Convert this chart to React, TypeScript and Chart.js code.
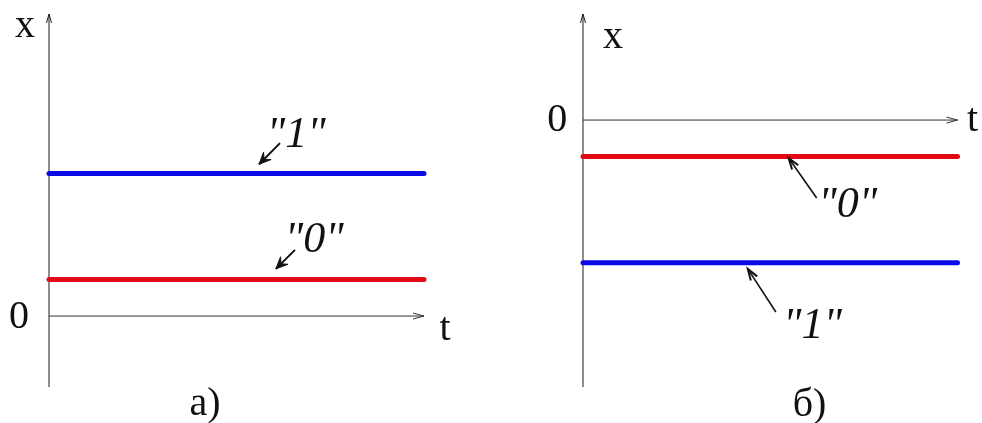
import React, { useEffect, useRef } from "react";
import { Chart, registerables } from "chart.js";

Chart.register(...registerables);

// ---- data ----
const times = [0, 10];
const panelA_level1 = [3.9, 3.9]; // "1" state, panel a)
const panelA_level0 = [1, 1]; // "0" state, panel a)
const panelB_level0 = [-1, -1]; // "0" state, panel б)
const panelB_level1 = [-3.9, -3.9]; // "1" state, panel б)

const axisLabels = ["x", "0", "t"];
const stateLabels = ['"1"', '"0"'];
const panelTitles = ["a)", "б)"];

const BLUE = "#0a0ae6";
const RED = "#e20a14";
const SERIF = '"Liberation Serif", "DejaVu Serif", serif';

type Label = { text: string; t: number; v: number; italic?: boolean };
type Arrow = { from: [number, number]; to: [number, number] };
type Annot = { labels: Label[]; arrows: Arrow[]; filledHeads: boolean };

const annotA: Annot = {
  labels: [
    { text: axisLabels[0], t: -0.64, v: 7.63 },
    { text: axisLabels[1], t: -0.8, v: -0.33 },
    { text: axisLabels[2], t: 10.56, v: -0.66 },
    { text: stateLabels[0], t: 6.59, v: 4.62, italic: true },
    { text: stateLabels[1], t: 7.07, v: 1.75, italic: true },
    { text: panelTitles[0], t: 4.16, v: -2.71 },
  ],
  arrows: [
    { from: [6.16, 4.73], to: [5.6, 4.15] },
    { from: [6.56, 1.81], to: [6.05, 1.29] },
  ],
  filledHeads: true,
};

const annotB: Annot = {
  labels: [
    { text: axisLabels[0], t: 0.8, v: 1.97 },
    { text: axisLabels[1], t: -0.69, v: -0.3 },
    { text: axisLabels[2], t: 10.4, v: -0.3 },
    { text: stateLabels[1], t: 7.07, v: -2.65, italic: true },
    { text: stateLabels[0], t: 6.13, v: -5.96, italic: true },
    { text: panelTitles[1], t: 6.05, v: -8.1 },
  ],
  arrows: [
    { from: [6.24, -2.13], to: [5.49, -1.04] },
    { from: [5.15, -5.25], to: [4.4, -4.07] },
  ],
  filledHeads: false,
};

function makeOverlay(annot: Annot) {
  return {
    id: "overlay",
    beforeDatasetsDraw(chart: any) {
      const { ctx, chartArea, scales } = chart;
      const xs = scales.x;
      const ys = scales.y;
      const x0 = xs.getPixelForValue(0);
      const y0 = ys.getPixelForValue(0);
      const xEnd = xs.getPixelForValue(times[times.length - 1]);
      ctx.save();
      ctx.strokeStyle = "#1a1a1a";
      ctx.lineWidth = 1;
      // vertical axis
      ctx.beginPath();
      ctx.moveTo(x0, chartArea.bottom);
      ctx.lineTo(x0, chartArea.top);
      ctx.stroke();
      ctx.beginPath();
      ctx.moveTo(x0 - 2.5, chartArea.top + 9);
      ctx.lineTo(x0, chartArea.top);
      ctx.lineTo(x0 + 2.5, chartArea.top + 9);
      ctx.stroke();
      // horizontal axis
      ctx.strokeStyle = "#333";
      ctx.beginPath();
      ctx.moveTo(x0, y0);
      ctx.lineTo(xEnd, y0);
      ctx.stroke();
      ctx.beginPath();
      ctx.moveTo(xEnd - 11, y0 - 3);
      ctx.lineTo(xEnd, y0);
      ctx.lineTo(xEnd - 11, y0 + 3);
      ctx.stroke();
      ctx.restore();
    },
    afterDatasetsDraw(chart: any) {
      const { ctx, scales } = chart;
      const xs = scales.x;
      const ys = scales.y;
      ctx.save();
      ctx.fillStyle = "#111";
      ctx.textAlign = "center";
      ctx.textBaseline = "alphabetic";
      for (const l of annot.labels) {
        ctx.font = l.italic ? `italic 44px ${SERIF}` : `40px ${SERIF}`;
        ctx.fillText(l.text, xs.getPixelForValue(l.t), ys.getPixelForValue(l.v));
      }
      ctx.strokeStyle = "#111";
      for (const a of annot.arrows) {
        const fx = xs.getPixelForValue(a.from[0]);
        const fy = ys.getPixelForValue(a.from[1]);
        const tx = xs.getPixelForValue(a.to[0]);
        const ty = ys.getPixelForValue(a.to[1]);
        const ang = Math.atan2(ty - fy, tx - fx);
        ctx.lineWidth = annot.filledHeads ? 2 : 1.6;
        ctx.beginPath();
        ctx.moveTo(fx, fy);
        ctx.lineTo(tx, ty);
        ctx.stroke();
        if (annot.filledHeads) {
          const L = 13;
          const W = 0.42;
          ctx.beginPath();
          ctx.moveTo(tx, ty);
          ctx.lineTo(tx - L * Math.cos(ang - W), ty - L * Math.sin(ang - W));
          ctx.lineTo(tx - L * 0.55 * Math.cos(ang), ty - L * 0.55 * Math.sin(ang));
          ctx.lineTo(tx - L * Math.cos(ang + W), ty - L * Math.sin(ang + W));
          ctx.closePath();
          ctx.fill();
          ctx.lineWidth = 1;
          ctx.stroke();
        } else {
          const L = 12;
          const W = 0.32;
          ctx.lineWidth = 2;
          ctx.beginPath();
          ctx.moveTo(tx - L * Math.cos(ang - W), ty - L * Math.sin(ang - W));
          ctx.lineTo(tx, ty);
          ctx.lineTo(tx - L * Math.cos(ang + W), ty - L * Math.sin(ang + W));
          ctx.stroke();
        }
      }
      ctx.restore();
    },
  };
}

function toPoints(values: number[]) {
  return times.map((t, i) => ({ x: t, y: values[i] }));
}

type PanelProps = {
  series: { values: number[]; color: string; label: string }[];
  yMin: number;
  yMax: number;
  padding: { left: number; right: number; top: number; bottom: number };
  annot: Annot;
};

function Panel({ series, yMin, yMax, padding, annot }: PanelProps) {
  const ref = useRef<HTMLCanvasElement | null>(null);
  useEffect(() => {
    if (!ref.current) return;
    const chart = new Chart(ref.current, {
      type: "line",
      data: {
        datasets: series.map((s) => ({
          label: s.label,
          data: toPoints(s.values),
          borderColor: s.color,
          backgroundColor: s.color,
          borderWidth: 5,
          borderCapStyle: "round",
          pointRadius: 0,
          clip: false,
          fill: false,
        })) as any,
      },
      options: {
        animation: false,
        responsive: false,
        maintainAspectRatio: false,
        devicePixelRatio: 1,
        layout: { padding },
        plugins: {
          legend: { display: false },
          tooltip: { enabled: false },
        },
        events: [],
        scales: {
          x: { type: "linear", min: times[0], max: times[times.length - 1], display: false },
          y: { type: "linear", min: yMin, max: yMax, display: false },
        },
      },
      plugins: [makeOverlay(annot)],
    });
    return () => chart.destroy();
  }, []);
  return <canvas ref={ref} width={491} height={423} style={{ display: "block" }} />;
}

export default function App() {
  return (
    <div
      style={{
        position: "fixed",
        left: 0,
        top: 0,
        width: 982,
        height: 423,
        background: "#fff",
        display: "flex",
      }}
    >
      <Panel
        series={[
          { values: panelA_level1, color: BLUE, label: '"1"' },
          { values: panelA_level0, color: RED, label: '"0"' },
        ]}
        yMin={-1.94}
        yMax={8.26}
        padding={{ left: 49, right: 67, top: 14, bottom: 36 }}
        annot={annotA}
      />
      <Panel
        series={[
          { values: panelB_level0, color: RED, label: '"0"' },
          { values: panelB_level1, color: BLUE, label: '"1"' },
        ]}
        yMin={-7.3}
        yMax={2.9}
        padding={{ left: 92, right: 24.5, top: 14, bottom: 36 }}
        annot={annotB}
      />
    </div>
  );
}
